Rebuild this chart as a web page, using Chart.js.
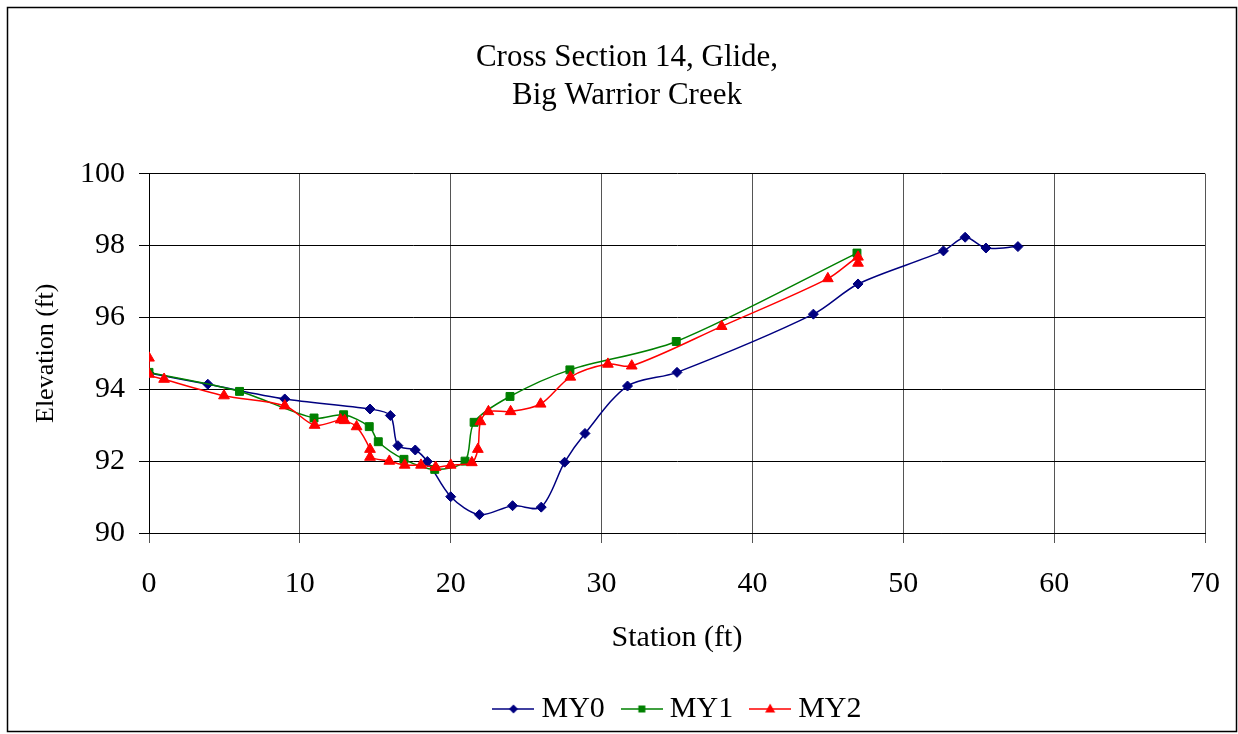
<!DOCTYPE html>
<html>
<head>
<meta charset="utf-8">
<script src="https://cdn.jsdelivr.net/npm/chart.js@4.4.1/dist/chart.umd.min.js"></script>
<style>
  html, body { margin: 0; padding: 0; background: #fff; }
  #wrap { width: 1238px; height: 734px; position: relative; }
</style>
</head>
<body>
<div id="wrap"><canvas id="c" width="1238" height="734"></canvas></div>
<script>
// ---- Data ----
const titleLines = ['Cross Section 14, Glide,', 'Big Warrior Creek'];
const seriesNames = ['MY0', 'MY1', 'MY2'];

const my0Station   = [0, 3.9, 9.0, 14.65, 16.0, 16.5, 17.65, 18.45, 20.0, 21.9, 24.1, 26.0, 27.55, 28.9, 31.72, 35.0, 44.04, 47.0, 52.66, 54.1, 55.48, 57.6];
const my0Elevation = [94.45, 94.14, 93.73, 93.45, 93.27, 92.43, 92.31, 91.99, 91.01, 90.51, 90.76, 90.72, 91.97, 92.77, 94.09, 94.47, 96.09, 96.93, 97.85, 98.23, 97.93, 97.97];

const my1Station   = [0, 6.0, 10.94, 12.9, 14.6, 15.2, 16.9, 18.94, 20.95, 21.55, 23.93, 27.9, 34.95, 46.93];
const my1Elevation = [94.47, 93.94, 93.2, 93.29, 92.96, 92.54, 92.05, 91.77, 92.0, 93.08, 93.8, 94.54, 95.33, 97.79];

const my2Station   = [0, 0, 1.0, 4.97, 9.0, 10.98, 12.7, 12.97, 13.76, 14.65, 14.65, 15.93, 16.95, 18.03, 19.0, 20.0, 21.4, 21.8, 21.97, 22.5, 23.97, 25.96, 27.93, 30.42, 32.0, 37.96, 45.0, 47.0, 47.0];
const my2Elevation = [94.87, 94.42, 94.28, 93.82, 93.54, 93.0, 93.15, 93.13, 92.96, 92.33, 92.11, 92.0, 91.89, 91.89, 91.83, 91.89, 91.96, 92.33, 93.1, 93.38, 93.38, 93.59, 94.34, 94.7, 94.65, 95.75, 97.08, 97.68, 97.51];

const xTicks = [0, 10, 20, 30, 40, 50, 60, 70];
const yTicks = [90, 92, 94, 96, 98, 100];
const xTitle = 'Station (ft)';
const yTitle = 'Elevation (ft)';

// ---- Styling ----
const FONT = '"Liberation Serif", "Times New Roman", serif';
const colors = ['#000080', '#008000', '#FF0000'];
const styles = ['rectRot', 'rect', 'triangle'];
const radii = [5, 5.6, 6.2];

function pts(xs, ys) { return xs.map((x, i) => ({ x: x, y: ys[i] })); }

function legendIcon(idx) {
  const w = 42, h = 16;
  const cv = document.createElement('canvas');
  cv.width = w; cv.height = h;
  const g = cv.getContext('2d');
  g.strokeStyle = colors[idx]; g.fillStyle = colors[idx]; g.lineWidth = 1.5;
  g.beginPath(); g.moveTo(0, 8); g.lineTo(w, 8); g.stroke();
  const cx = w / 2, cy = 8;
  g.beginPath();
  if (styles[idx] === 'rectRot') {
    g.moveTo(cx, cy - 4.5); g.lineTo(cx + 4.5, cy); g.lineTo(cx, cy + 4.5); g.lineTo(cx - 4.5, cy);
  } else if (styles[idx] === 'rect') {
    g.rect(cx - 3.5, cy - 3.5, 7, 7);
  } else {
    g.moveTo(cx, cy - 5.5); g.lineTo(cx + 5, cy + 3.5); g.lineTo(cx - 5, cy + 3.5);
  }
  g.closePath(); g.fill();
  return cv;
}
const icons = [0, 1, 2].map(legendIcon);

const seriesData = [pts(my0Station, my0Elevation), pts(my1Station, my1Elevation), pts(my2Station, my2Elevation)];

const datasets = seriesNames.map((name, i) => ({
  label: name,
  data: seriesData[i],
  borderColor: colors[i],
  backgroundColor: colors[i],
  borderWidth: 1.5,
  pointStyle: styles[i],
  pointRadius: radii[i],
  pointBorderWidth: 1,
  pointBorderColor: colors[i],
  pointBackgroundColor: colors[i],
  tension: 0.3,
  fill: false,
  showLine: true,
  order: 3 - i
}));

const outerBorder = {
  id: 'outerBorder',
  afterDraw(chart) {
    const ctx = chart.ctx;
    ctx.save();
    ctx.strokeStyle = '#000';
    ctx.lineWidth = 1.5;
    ctx.strokeRect(7.5, 7.5, 1229, 724);
    ctx.restore();
  }
};

// Re-centre title and legend like the reference (title over the page, legend under the plot)
const recentre = {
  id: 'recentre',
  afterLayout(chart) {
    const t = chart.titleBlock;
    if (t) { t.left = 16; t.right = 1238; t.width = t.right - t.left; }
    const l = chart.legend;
    if (l) {
      const ca = chart.chartArea;
      l.left = ca.left + 4; l.right = ca.right + 4; l.width = l.right - l.left;
    }
  }
};

new Chart(document.getElementById('c'), {
  type: 'scatter',
  data: { datasets: datasets },
  plugins: [outerBorder, recentre],
  options: {
    responsive: false,
    animation: false,
    layout: { padding: { left: 0, right: 33, top: 0, bottom: 0 } },
    plugins: {
      tooltip: { enabled: false },
      title: {
        display: true,
        text: titleLines,
        color: '#000',
        font: { family: FONT, size: 31, weight: 'normal', lineHeight: 1.22 },
        padding: { top: 39, bottom: 59 }
      },
      legend: {
        position: 'bottom',
        labels: {
          font: { family: FONT, size: 30 },
          color: '#000',
          usePointStyle: true,
          pointStyleWidth: 26,
          padding: 24,
          generateLabels(chart) {
            return chart.data.datasets.map((ds, i) => ({
              text: ds.label,
              pointStyle: icons[i],
              fillStyle: colors[i],
              strokeStyle: colors[i],
              lineWidth: 0,
              hidden: false,
              datasetIndex: i,
              fontColor: '#000'
            }));
          }
        }
      }
    },
    scales: {
      x: {
        type: 'linear',
        min: 0, max: 70,
        afterBuildTicks(scale) { scale.ticks = xTicks.map(v => ({ value: v })); },
        afterFit(scale) { scale.height = 137; scale.paddingLeft = 0; scale.paddingRight = 0; },
        ticks: { color: '#000', font: { family: FONT, size: 30 }, padding: 23, maxRotation: 0 },
        grid: { color: '#555', lineWidth: 1, tickLength: 10 },
        border: { color: '#000', width: 1 },
        title: { display: true, text: xTitle, color: '#000', font: { family: FONT, size: 30 }, padding: { top: 0, bottom: 14 } }
      },
      y: {
        type: 'linear',
        min: 90, max: 100,
        afterBuildTicks(scale) { scale.ticks = yTicks.map(v => ({ value: v })); },
        afterFit(scale) { scale.width = 149; },
        ticks: { color: '#000', font: { family: FONT, size: 30 }, padding: 14 },
        grid: { color: '#000', lineWidth: 1, tickLength: 10 },
        border: { color: '#000', width: 1 },
        title: { display: true, text: yTitle, color: '#000', font: { family: FONT, size: 26 }, padding: { top: 31, bottom: 0 } }
      }
    }
  }
});
</script>
</body>
</html>
